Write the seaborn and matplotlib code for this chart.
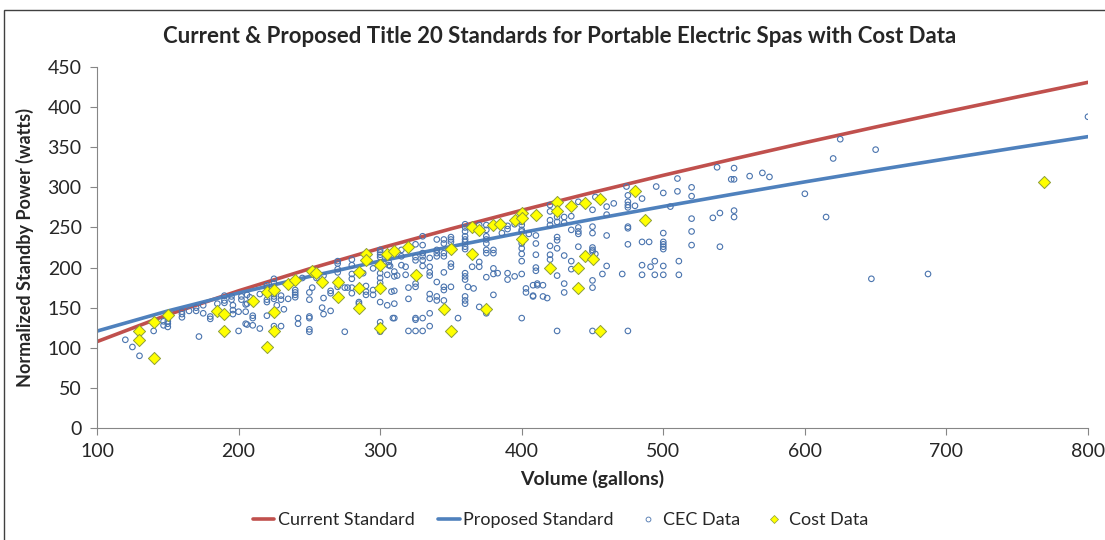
import matplotlib
matplotlib.use("Agg")
import matplotlib.pyplot as plt
from matplotlib.lines import Line2D
from matplotlib.patches import Rectangle
import seaborn as sns
import pandas as pd

# standard curves (volume in gallons -> normalized standby power in watts)
std_volume = [100, 150, 200, 250, 300, 350, 400, 450, 500, 550, 600, 650, 700, 750, 800]
current_std = [107.7, 141.2, 171.0, 198.4, 224.1, 248.3, 271.4, 293.6, 315.0,
               335.6, 355.7, 375.2, 394.2, 412.7, 430.9]
proposed_std = [120.8, 145.9, 168.3, 188.8, 208.1, 226.2, 243.6, 260.2, 276.2,
                291.7, 306.8, 321.4, 335.6, 349.6, 363.2]

# CEC database points
cec_points = [
    (120, 110), (125, 101), (130, 90), (140, 121), (147, 128), (147, 133), (150, 130), (150, 133),
    (150, 126), (160, 138), (160, 142), (160, 145), (165, 146), (170, 146), (170, 150), (172, 114),
    (175, 143), (175, 153), (180, 136), (180, 139), (185, 155), (185, 143), (190, 156), (190, 159),
    (190, 165), (195, 164), (195, 160), (196, 153), (196, 147), (196, 142), (200, 145), (200, 121),
    (202, 160), (202, 164), (205, 154), (205, 145), (205, 130), (208, 163),
    (206, 166), (206, 155), (206, 129), (210, 140), (210, 137), (210, 128), (215, 167), (215, 124),
    (220, 160), (220, 157), (220, 140), (220, 178), (220, 175), (225, 186), (225, 181), (225, 164),
    (225, 161), (225, 167), (225, 127), (227, 153), (230, 165), (230, 160), (230, 127), (232, 148),
    (235, 161), (240, 172), (240, 169), (240, 166), (240, 163), (242, 137), (242, 130), (245, 187),
    (250, 169), (250, 160), (250, 139), (250, 137), (250, 123), (250, 120), (252, 175), (255, 187),
    (260, 190), (260, 162), (259, 150), (260, 142), (265, 171), (265, 168), (265, 146), (270, 208),
    (270, 205), (270, 198), (270, 194), (270, 176), (275, 120), (275, 175), (277, 175), (280, 210),
    (280, 203), (280, 192), (280, 186), (280, 175), (280, 168), (285, 194), (285, 157), (285, 155),
    (288, 193), (290, 177), (290, 170), (290, 166), (295, 199), (295, 166), (295, 172), (300, 222),
    (300, 219), (300, 216), (300, 213), (300, 193), (300, 187), (300, 181), (300, 132), (300, 127),
    (300, 120), (300, 157), (305, 191), (305, 153), (306, 207), (306, 203), (308, 170), (309, 137),
    (307, 202), (310, 195), (310, 189), (310, 171), (310, 155), (310, 137), (312, 190), (315, 222),
    (315, 214), (315, 203), (318, 201), (318, 191), (320, 175), (320, 161), (320, 121), (325, 121),
    (330, 121), (325, 229), (325, 213), (325, 209), (325, 180), (325, 176), (325, 137), (325, 135),
    (330, 239), (330, 228), (330, 218), (330, 214), (330, 209), (330, 202), (330, 137), (335, 212),
    (335, 201), (335, 194), (335, 190), (335, 167), (335, 161), (335, 143), (335, 127), (340, 235),
    (340, 222), (340, 218), (340, 214), (340, 182), (340, 164), (340, 159), (345, 235), (345, 230),
    (345, 218), (345, 214), (345, 194), (345, 176), (345, 172), (345, 159), (350, 238), (350, 235),
    (350, 232), (350, 205), (350, 201), (350, 176), (355, 137), (360, 254), (360, 250), (360, 245),
    (360, 239), (360, 235), (360, 232), (360, 226), (360, 223), (360, 193), (360, 189), (360, 185),
    (360, 164), (360, 159), (360, 155), (362, 176), (365, 201), (366, 174), (370, 207), (370, 201),
    (370, 151), (370, 253), (370, 247), (375, 253), (375, 247), (375, 239), (375, 235), (375, 230),
    (375, 222), (375, 218), (375, 188), (375, 143), (380, 218), (380, 222), (380, 199), (380, 192),
    (383, 193), (380, 166), (386, 243), (390, 252), (390, 248), (390, 193), (390, 185), (395, 189),
    (395, 254), (400, 257), (400, 253), (400, 247), (400, 245), (400, 230), (400, 224), (400, 217),
    (400, 208), (400, 192), (400, 137), (403, 174), (403, 169), (405, 242), (408, 165), (410, 216),
    (410, 240), (410, 230), (410, 200), (411, 180), (411, 178), (408, 178), (408, 164), (410, 196),
    (415, 178), (415, 164), (418, 162),
    (420, 278), (420, 270), (420, 259), (420, 253), (420, 227), (420, 216), (420, 210), (425, 263),
    (425, 257), (425, 238), (425, 234), (425, 224), (425, 190), (425, 121), (430, 263), (430, 256),
    (430, 215), (430, 180), (430, 169), (435, 264), (435, 247), (435, 208), (435, 198), (440, 282),
    (440, 250), (440, 245), (440, 242), (440, 226), (450, 272), (450, 251), (450, 243), (450, 225),
    (450, 222), (450, 220), (450, 184), (450, 175), (450, 121), (452, 288), (452, 217), (460, 276),
    (460, 266), (460, 240), (460, 202), (457, 192), (465, 280), (471, 192), (474, 301), (475, 290),
    (475, 282), (475, 278), (475, 275), (475, 251), (475, 249), (475, 229), (475, 121), (480, 277),
    (485, 286), (485, 232), (490, 232), (485, 203), (485, 191), (491, 201), (494, 208), (494, 191),
    (495, 301), (500, 293), (500, 243), (500, 232), (500, 229), (500, 226), (500, 223), (500, 202),
    (500, 191), (505, 276), (510, 311), (510, 295), (511, 208), (511, 191),
    (520, 300), (520, 289), (520, 261), (520, 245), (520, 228), (535, 262), (538, 325), (540, 268),
    (540, 226), (548, 310), (550, 310), (550, 324), (550, 271), (550, 263), (561, 314), (570, 318),
    (575, 313), (600, 292), (615, 263), (620, 336), (625, 360), (650, 347), (647, 186), (687, 192),
    (800, 388),
]
cec_volume = [v for v, p in cec_points]
cec_power = [p for v, p in cec_points]

# cost data points
cost_volume = [130, 130, 140, 140, 150, 185, 190, 190, 210, 220, 220, 225, 225, 225, 235, 240,
               252, 255, 259, 270, 270, 285, 285, 285, 290, 290, 300, 300, 300, 305, 310, 320,
               325, 345, 350, 350, 365, 365, 370, 375, 380, 385, 395, 400, 400, 400, 410, 420,
               425, 425, 435, 440, 440, 445, 445, 450, 455, 455, 480, 487, 769]
cost_power = [121, 110, 132, 87, 141, 146, 142, 121, 158, 169, 101, 172, 145, 121, 180, 185,
              196, 193, 182, 182, 163, 194, 175, 149, 217, 210, 203, 175, 125, 217, 221, 226,
              191, 148, 223, 121, 217, 250, 247, 148, 253, 254, 259, 268, 262, 235, 265, 200,
              282, 271, 277, 200, 174, 280, 214, 211, 285, 121, 295, 259, 307]

red = "#C0504D"
blue = "#4F81BD"

sns.set_style("white")
plt.rcParams["font.family"] = ["Lato", "DejaVu Sans"]

fig = plt.figure(figsize=(11.05, 5.4), dpi=100)
ax = fig.add_axes([0.0878, 0.2074, 0.8968, 0.6685])

std_df = pd.DataFrame({"Volume": std_volume, "Current": current_std, "Proposed": proposed_std})
sns.lineplot(data=std_df, x="Volume", y="Current", color=red, linewidth=2.6, ax=ax, zorder=2)
sns.lineplot(data=std_df, x="Volume", y="Proposed", color=blue, linewidth=2.6, ax=ax, zorder=2)

ax.scatter(cec_volume, cec_power, s=16, facecolors="none", edgecolors="#4A74AE",
           linewidths=0.8, zorder=3)
sns.scatterplot(x=cost_volume, y=cost_power, marker="D", s=38, color="#FFFF00",
                edgecolor="#8E9E3A", linewidth=0.7, ax=ax, zorder=4)

ax.set_xlim(100, 800)
ax.set_ylim(0, 450)
ax.set_xticks(range(100, 801, 100))
ax.set_yticks(range(0, 451, 50))
ax.tick_params(axis="both", labelsize=14, length=5, width=0.8, color="#868686",
               direction="out", left=True, bottom=True, pad=6)
for s in ["top", "right"]:
    ax.spines[s].set_visible(False)
for s in ["left", "bottom"]:
    ax.spines[s].set_color("#868686")
    ax.spines[s].set_linewidth(0.8)

ax.set_xlabel("Volume (gallons)", fontsize=14, fontweight="bold", labelpad=7)
ax.set_ylabel("Normalized Standby Power (watts)", fontsize=13, fontweight="bold", labelpad=10)
fig.text(0.506, 0.932, "Current & Proposed Title 20 Standards for Portable Electric Spas with Cost Data",
         ha="center", va="center", fontsize=16, fontweight="bold")

handles = [
    Line2D([], [], color=red, linewidth=2.6),
    Line2D([], [], color=blue, linewidth=2.6),
    Line2D([], [], linestyle="none", marker="o", markersize=3.5, markerfacecolor="none",
           markeredgecolor="#4A74AE", markeredgewidth=0.6),
    Line2D([], [], linestyle="none", marker="D", markersize=4.5, markerfacecolor="#FFFF00",
           markeredgecolor="#8E9E3A", markeredgewidth=0.5),
]
fig.legend(handles, ["Current Standard", "Proposed Standard", "CEC Data", "Cost Data"],
           loc="center", bbox_to_anchor=(0.507, 0.037), ncol=4, frameon=False, fontsize=13,
           handlelength=1.2, handletextpad=0.2, columnspacing=1.3)

# chart-area border
fig.patches.append(Rectangle((4 / 1105, -0.1), 1.2, 1 - 10 / 540 + 0.1, transform=fig.transFigure,
                             fill=False, edgecolor="#404040", linewidth=1.0))

fig.savefig("out.png", dpi=100)
